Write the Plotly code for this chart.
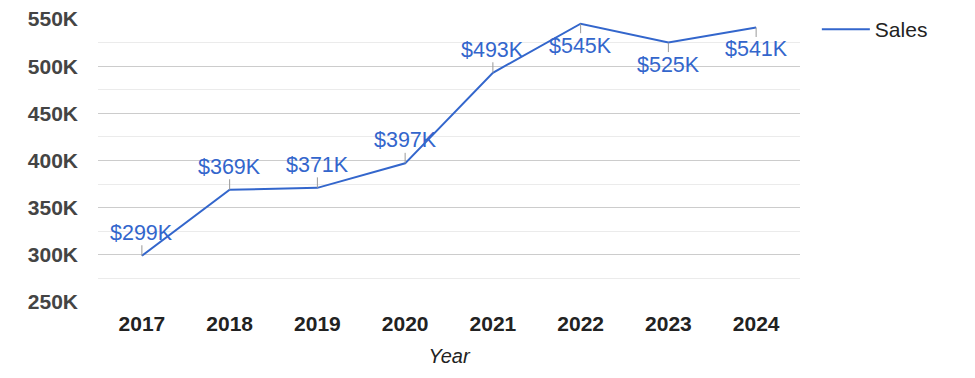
import plotly.graph_objects as go

years = ["2017", "2018", "2019", "2020", "2021", "2022", "2023", "2024"]
sales = [299000, 369000, 371000, 397000, 493000, 545000, 525000, 541000]
sales_labels = ["$299K", "$369K", "$371K", "$397K", "$493K", "$545K", "$525K", "$541K"]
y_tick_vals = [250000, 300000, 350000, 400000, 450000, 500000, 550000]
y_tick_text = ["250K", "300K", "350K", "400K", "450K", "500K", "550K"]

FONT = "Arial, Liberation Sans, sans-serif"
BLUE = "#3366cc"

fig = go.Figure()
fig.add_trace(go.Scatter(
    x=years, y=sales, mode="lines", name="Sales",
    line=dict(color=BLUE, width=2), hoverinfo="x+y",
))

for i, (v, lab) in enumerate(zip(sales, sales_labels)):
    below = v > 500000  # labels near the top are placed under the point
    fig.add_annotation(
        x=i, y=v, xref="x", yref="y", text=lab, showarrow=True, arrowhead=0,
        arrowwidth=1, arrowcolor="#999999", ax=0, ay=(22 if below else -23),
        borderpad=0, font=dict(family=FONT, size=21.5, color=BLUE),
    )

fig.update_layout(
    width=975, height=378,
    margin=dict(l=90, r=183, t=11, b=84, autoexpand=False),
    paper_bgcolor="white", plot_bgcolor="white",
    font=dict(family=FONT, size=21, color="#222222"),
    showlegend=True,
    legend=dict(x=1.024, y=1.035, xanchor="left", yanchor="top", itemwidth=48,
                font=dict(family=FONT, size=21, color="#222222"),
                bgcolor="rgba(0,0,0,0)"),
    xaxis=dict(
        type="category", showgrid=False, zeroline=False, showline=False,
        automargin=False, ticks="", ticklabelstandoff=7,
        tickfont=dict(family=FONT, size=21, color="#222222", weight="bold"),
        title=dict(text="<i>Year</i>", font=dict(family=FONT, size=20, color="#222222"), standoff=14),
        range=[-0.5, 7.5],
    ),
    yaxis=dict(
        range=[250000, 550000], tickvals=y_tick_vals, ticktext=y_tick_text,
        showgrid=True, gridcolor="#cccccc", gridwidth=1, zeroline=False,
        showline=False, ticks="", ticklabelstandoff=19, automargin=False,
        ticklabeloverflow="allow",
        tickfont=dict(family=FONT, size=21, color="#444444", weight="bold"),
        minor=dict(dtick=25000, showgrid=True, gridcolor="#ebebeb", gridwidth=1, tick0=250000),
    ),
)

fig.write_html("out.html")
